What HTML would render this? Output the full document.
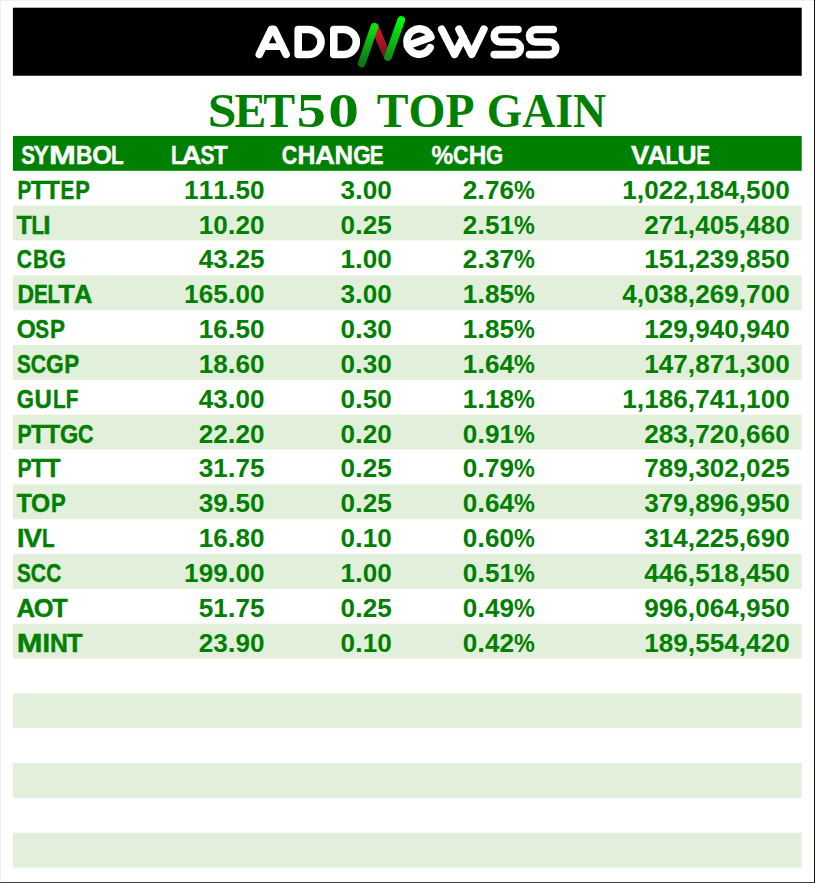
<!DOCTYPE html>
<html><head><meta charset="utf-8"><title>SET50 TOP GAIN</title>
<style>html,body{margin:0;padding:0;background:#fff;}body{width:815px;height:883px;overflow:hidden;font-family:"Liberation Sans",sans-serif;}</style>
</head><body>
<svg width="815" height="883" viewBox="0 0 815 883" style="display:block;font-kerning:none">
<rect x="0" y="0" width="815" height="883" fill="#fff"/>
<rect x="0" y="0" width="815" height="1" fill="#efefef"/>
<rect x="0" y="0" width="1" height="883" fill="#efefef"/>
<rect x="0" y="882" width="815" height="1" fill="#444"/>
<rect x="814" y="0" width="1" height="883" fill="#111"/>
<rect x="12.9" y="7.7" width="788.80" height="68.05" fill="#000"/>
<defs>
<linearGradient id="gL" x1="374.6" y1="26.5" x2="361.7" y2="63.4" gradientUnits="userSpaceOnUse"><stop offset="0" stop-color="#0fe012"/><stop offset="1" stop-color="#0b7512"/></linearGradient>
<linearGradient id="gR" x1="401" y1="19.6" x2="387.5" y2="57.2" gradientUnits="userSpaceOnUse"><stop offset="0" stop-color="#04fa08"/><stop offset="1" stop-color="#0e8c18"/></linearGradient>
<linearGradient id="gM" x1="377" y1="26" x2="387" y2="58" gradientUnits="userSpaceOnUse"><stop offset="0" stop-color="#dc1a2a"/><stop offset="1" stop-color="#6c141e"/></linearGradient>
</defs>
<g fill="none" stroke="#fff" stroke-width="7.6" stroke-linecap="round" stroke-linejoin="round">
<path d="M259.3,54.4 L271.5,29.2 L273.9,29.2 L286.1,54.4"/>
<path d="M264.5,46.6 L281,46.6" stroke-width="6.8"/>
<path d="M298.2,29.5 L308.5,29.5 A12.5,12.5 0 0 1 308.5,54.5 L298.2,54.5 Z"/>
<path d="M333.8,29.5 L343.8,29.5 A12.5,12.5 0 0 1 343.8,54.5 L333.8,54.5 Z"/>
<path d="M430.9,37.1 A12.35,12.75 0 1 0 430.2,47.6 M430.9,37.1 L407.3,45.7"/>
<path d="M441.7,29.2 L454.6,54.4 L463.3,37.5 M459,29.2 L471.7,54.4 L483.9,29.2"/>
<path d="M518,29.5 L500.5,29.5 A6.275,6.275 0 0 0 500.5,42.05 L514.1,42.05 A6.275,6.275 0 0 1 514.1,54.6 L494.2,54.6"/>
<path d="M553.3,29.5 L535.8,29.5 A6.275,6.275 0 0 0 535.8,42.05 L549.5,42.05 A6.275,6.275 0 0 1 549.5,54.6 L529.5,54.6"/>
</g>
<polygon points="372,31 378.1,24.2 390,53 386,59.5 384.3,58.9" fill="url(#gM)"/>
<path d="M374.4,26.75 L361.7,63.6" stroke="url(#gL)" stroke-width="7.7" stroke-linecap="round" fill="none"/>
<path d="M401.2,20.0 L388.0,57.0" stroke="url(#gR)" stroke-width="7.7" stroke-linecap="round" fill="none"/>

<text transform="translate(207.74,126.50) scale(1.0905,1)" font-family="'Liberation Serif', serif" font-weight="bold" font-size="47.6" fill="#008000">S</text>
<text transform="translate(234.59,126.50) scale(1.0002,1)" font-family="'Liberation Serif', serif" font-weight="bold" font-size="47.6" fill="#008000">E</text>
<text transform="translate(263.15,126.50) scale(1.0038,1)" font-family="'Liberation Serif', serif" font-weight="bold" font-size="47.6" fill="#008000">T</text>
<text transform="translate(296.87,126.50) scale(1.2208,1)" font-family="'Liberation Serif', serif" font-weight="bold" font-size="47.6" fill="#008000">5</text>
<text transform="translate(328.26,126.50) scale(1.2888,1)" font-family="'Liberation Serif', serif" font-weight="bold" font-size="47.6" fill="#008000">0</text>
<text transform="translate(376.76,126.50) scale(0.9984,1)" font-family="'Liberation Serif', serif" font-weight="bold" font-size="47.6" fill="#008000">TOP</text>
<text transform="translate(486.67,126.50) scale(0.9601,1)" font-family="'Liberation Serif', serif" font-weight="bold" font-size="47.6" fill="#008000">GAIN</text>
<rect x="12.9" y="135.96" width="788.80" height="34.84" fill="#008000"/>
<rect x="12.9" y="205.64" width="788.80" height="34.84" fill="#E2EFDA"/>
<rect x="12.9" y="275.32" width="788.80" height="34.84" fill="#E2EFDA"/>
<rect x="12.9" y="345.00" width="788.80" height="34.84" fill="#E2EFDA"/>
<rect x="12.9" y="414.68" width="788.80" height="34.84" fill="#E2EFDA"/>
<rect x="12.9" y="484.36" width="788.80" height="34.84" fill="#E2EFDA"/>
<rect x="12.9" y="554.04" width="788.80" height="34.84" fill="#E2EFDA"/>
<rect x="12.9" y="623.72" width="788.80" height="34.84" fill="#E2EFDA"/>
<rect x="12.9" y="693.40" width="788.80" height="34.84" fill="#E2EFDA"/>
<rect x="12.9" y="763.08" width="788.80" height="34.84" fill="#E2EFDA"/>
<rect x="12.9" y="832.76" width="788.80" height="34.84" fill="#E2EFDA"/>
<text transform="translate(21.17,164.06) scale(0.8000,1)" font-family="'Liberation Sans', sans-serif" font-weight="bold" font-size="25.8" fill="#fff" stroke="#fff" stroke-width="0.4">S</text>
<text transform="translate(33.51,164.06) scale(0.8929,1)" font-family="'Liberation Sans', sans-serif" font-weight="bold" font-size="25.8" fill="#fff" stroke="#fff" stroke-width="0.4">Y</text>
<text transform="translate(48.97,164.06) scale(1.2500,1)" font-family="'Liberation Sans', sans-serif" font-weight="bold" font-size="25.8" fill="#fff" stroke="#fff" stroke-width="0.4">M</text>
<text transform="translate(76.08,164.06) scale(0.8834,1)" font-family="'Liberation Sans', sans-serif" font-weight="bold" font-size="25.8" fill="#fff" stroke="#fff" stroke-width="0.4">B</text>
<text transform="translate(92.27,164.06) scale(0.9762,1)" font-family="'Liberation Sans', sans-serif" font-weight="bold" font-size="25.8" fill="#fff" stroke="#fff" stroke-width="0.4">O</text>
<text transform="translate(110.97,164.06) scale(0.8000,1)" font-family="'Liberation Sans', sans-serif" font-weight="bold" font-size="25.8" fill="#fff" stroke="#fff" stroke-width="0.4">L</text>
<text transform="translate(170.92,164.06) scale(0.8000,1)" font-family="'Liberation Sans', sans-serif" font-weight="bold" font-size="25.8" fill="#fff" stroke="#fff" stroke-width="0.4">L</text>
<text transform="translate(181.61,164.06) scale(1.0746,1)" font-family="'Liberation Sans', sans-serif" font-weight="bold" font-size="25.8" fill="#fff" stroke="#fff" stroke-width="0.4">A</text>
<text transform="translate(200.49,164.06) scale(0.8151,1)" font-family="'Liberation Sans', sans-serif" font-weight="bold" font-size="25.8" fill="#fff" stroke="#fff" stroke-width="0.4">S</text>
<text transform="translate(213.44,164.06) scale(0.9017,1)" font-family="'Liberation Sans', sans-serif" font-weight="bold" font-size="25.8" fill="#fff" stroke="#fff" stroke-width="0.4">T</text>
<text transform="translate(281.72,164.06) scale(0.8300,1)" font-family="'Liberation Sans', sans-serif" font-weight="bold" font-size="25.8" fill="#fff" stroke="#fff" stroke-width="0.4">C</text>
<text transform="translate(297.54,164.06) scale(0.9626,1)" font-family="'Liberation Sans', sans-serif" font-weight="bold" font-size="25.8" fill="#fff" stroke="#fff" stroke-width="0.4">H</text>
<text transform="translate(315.11,164.06) scale(1.0688,1)" font-family="'Liberation Sans', sans-serif" font-weight="bold" font-size="25.8" fill="#fff" stroke="#fff" stroke-width="0.4">A</text>
<text transform="translate(334.57,164.06) scale(1.0021,1)" font-family="'Liberation Sans', sans-serif" font-weight="bold" font-size="25.8" fill="#fff" stroke="#fff" stroke-width="0.4">N</text>
<text transform="translate(353.28,164.06) scale(0.8731,1)" font-family="'Liberation Sans', sans-serif" font-weight="bold" font-size="25.8" fill="#fff" stroke="#fff" stroke-width="0.4">G</text>
<text transform="translate(369.78,164.06) scale(0.8000,1)" font-family="'Liberation Sans', sans-serif" font-weight="bold" font-size="25.8" fill="#fff" stroke="#fff" stroke-width="0.4">E</text>
<text transform="translate(431.39,164.06) scale(0.9483,1)" font-family="'Liberation Sans', sans-serif" font-weight="bold" font-size="25.8" fill="#fff" stroke="#fff" stroke-width="0.4">%</text>
<text transform="translate(452.92,164.06) scale(0.8300,1)" font-family="'Liberation Sans', sans-serif" font-weight="bold" font-size="25.8" fill="#fff" stroke="#fff" stroke-width="0.4">C</text>
<text transform="translate(468.77,164.06) scale(0.9428,1)" font-family="'Liberation Sans', sans-serif" font-weight="bold" font-size="25.8" fill="#fff" stroke="#fff" stroke-width="0.4">H</text>
<text transform="translate(486.09,164.06) scale(0.8558,1)" font-family="'Liberation Sans', sans-serif" font-weight="bold" font-size="25.8" fill="#fff" stroke="#fff" stroke-width="0.4">G</text>
<text transform="translate(631.11,164.06) scale(1.0620,1)" font-family="'Liberation Sans', sans-serif" font-weight="bold" font-size="25.8" fill="#fff" stroke="#fff" stroke-width="0.4">V</text>
<text transform="translate(647.24,164.06) scale(1.0341,1)" font-family="'Liberation Sans', sans-serif" font-weight="bold" font-size="25.8" fill="#fff" stroke="#fff" stroke-width="0.4">A</text>
<text transform="translate(665.47,164.06) scale(0.8000,1)" font-family="'Liberation Sans', sans-serif" font-weight="bold" font-size="25.8" fill="#fff" stroke="#fff" stroke-width="0.4">L</text>
<text transform="translate(677.41,164.06) scale(1.0253,1)" font-family="'Liberation Sans', sans-serif" font-weight="bold" font-size="25.8" fill="#fff" stroke="#fff" stroke-width="0.4">U</text>
<text transform="translate(696.23,164.06) scale(0.8000,1)" font-family="'Liberation Sans', sans-serif" font-weight="bold" font-size="25.8" fill="#fff" stroke="#fff" stroke-width="0.4">E</text>
<g font-family="'Liberation Sans', sans-serif" font-weight="bold" font-size="25.8" fill="#008000">
<text transform="translate(17.38,198.75) scale(0.8000,1)" stroke="#008000" stroke-width="0.45">P</text>
<text transform="translate(30.73,198.75) scale(0.9412,1)" stroke="#008000" stroke-width="0.45">T</text>
<text transform="translate(45.03,198.75) scale(0.9478,1)" stroke="#008000" stroke-width="0.45">T</text>
<text transform="translate(60.48,198.75) scale(0.8000,1)" stroke="#008000" stroke-width="0.45">E</text>
<text transform="translate(75.33,198.75) scale(0.8493,1)" stroke="#008000" stroke-width="0.45">P</text>
<text transform="translate(184.12,198.75) scale(1.0119,1)">1</text><text transform="translate(198.64,198.75) scale(1.0119,1)">1</text><text transform="translate(213.16,198.75) scale(1.0119,1)">1</text><text transform="translate(227.68,198.75) scale(1.0882,1)">.</text><text transform="translate(235.48,198.75) scale(1.0119,1)">5</text><text transform="translate(250.00,198.75) scale(1.0119,1)">0</text>
<text transform="translate(340.51,198.75) scale(1.0119,1)">3</text><text transform="translate(355.03,198.75) scale(1.0882,1)">.</text><text transform="translate(362.83,198.75) scale(1.0119,1)">0</text><text transform="translate(377.35,198.75) scale(1.0119,1)">0</text>
<text transform="translate(462.76,198.75) scale(1.0119,1)">2</text><text transform="translate(477.28,198.75) scale(1.0882,1)">.</text><text transform="translate(485.08,198.75) scale(1.0119,1)">7</text><text transform="translate(499.60,198.75) scale(1.0119,1)">6</text><text transform="translate(514.12,198.75) scale(0.9067,1)">%</text>
<text transform="translate(622.27,198.75) scale(1.0119,1)">1</text><text transform="translate(636.79,198.75) scale(1.0324,1)">,</text><text transform="translate(644.19,198.75) scale(1.0119,1)">0</text><text transform="translate(658.71,198.75) scale(1.0119,1)">2</text><text transform="translate(673.23,198.75) scale(1.0119,1)">2</text><text transform="translate(687.75,198.75) scale(1.0324,1)">,</text><text transform="translate(695.15,198.75) scale(1.0119,1)">1</text><text transform="translate(709.67,198.75) scale(1.0119,1)">8</text><text transform="translate(724.19,198.75) scale(1.0119,1)">4</text><text transform="translate(738.71,198.75) scale(1.0324,1)">,</text><text transform="translate(746.11,198.75) scale(1.0119,1)">5</text><text transform="translate(760.63,198.75) scale(1.0119,1)">0</text><text transform="translate(775.15,198.75) scale(1.0119,1)">0</text>
<text transform="translate(16.52,233.59) scale(0.9676,1)" stroke="#008000" stroke-width="0.45">T</text>
<text transform="translate(31.47,233.59) scale(0.8000,1)" stroke="#008000" stroke-width="0.45">L</text>
<text transform="translate(43.34,233.59) scale(1.0225,1)" stroke="#008000" stroke-width="0.45">I</text>
<text transform="translate(198.64,233.59) scale(1.0119,1)">1</text><text transform="translate(213.16,233.59) scale(1.0119,1)">0</text><text transform="translate(227.68,233.59) scale(1.0882,1)">.</text><text transform="translate(235.48,233.59) scale(1.0119,1)">2</text><text transform="translate(250.00,233.59) scale(1.0119,1)">0</text>
<text transform="translate(340.51,233.59) scale(1.0119,1)">0</text><text transform="translate(355.03,233.59) scale(1.0882,1)">.</text><text transform="translate(362.83,233.59) scale(1.0119,1)">2</text><text transform="translate(377.35,233.59) scale(1.0119,1)">5</text>
<text transform="translate(462.76,233.59) scale(1.0119,1)">2</text><text transform="translate(477.28,233.59) scale(1.0882,1)">.</text><text transform="translate(485.08,233.59) scale(1.0119,1)">5</text><text transform="translate(499.60,233.59) scale(1.0119,1)">1</text><text transform="translate(514.12,233.59) scale(0.9067,1)">%</text>
<text transform="translate(644.19,233.59) scale(1.0119,1)">2</text><text transform="translate(658.71,233.59) scale(1.0119,1)">7</text><text transform="translate(673.23,233.59) scale(1.0119,1)">1</text><text transform="translate(687.75,233.59) scale(1.0324,1)">,</text><text transform="translate(695.15,233.59) scale(1.0119,1)">4</text><text transform="translate(709.67,233.59) scale(1.0119,1)">0</text><text transform="translate(724.19,233.59) scale(1.0119,1)">5</text><text transform="translate(738.71,233.59) scale(1.0324,1)">,</text><text transform="translate(746.11,233.59) scale(1.0119,1)">4</text><text transform="translate(760.63,233.59) scale(1.0119,1)">8</text><text transform="translate(775.15,233.59) scale(1.0119,1)">0</text>
<text transform="translate(16.83,268.43) scale(0.8181,1)" stroke="#008000" stroke-width="0.45">C</text>
<text transform="translate(33.07,268.43) scale(0.8262,1)" stroke="#008000" stroke-width="0.45">B</text>
<text transform="translate(49.11,268.43) scale(0.8386,1)" stroke="#008000" stroke-width="0.45">G</text>
<text transform="translate(198.64,268.43) scale(1.0119,1)">4</text><text transform="translate(213.16,268.43) scale(1.0119,1)">3</text><text transform="translate(227.68,268.43) scale(1.0882,1)">.</text><text transform="translate(235.48,268.43) scale(1.0119,1)">2</text><text transform="translate(250.00,268.43) scale(1.0119,1)">5</text>
<text transform="translate(340.51,268.43) scale(1.0119,1)">1</text><text transform="translate(355.03,268.43) scale(1.0882,1)">.</text><text transform="translate(362.83,268.43) scale(1.0119,1)">0</text><text transform="translate(377.35,268.43) scale(1.0119,1)">0</text>
<text transform="translate(462.76,268.43) scale(1.0119,1)">2</text><text transform="translate(477.28,268.43) scale(1.0882,1)">.</text><text transform="translate(485.08,268.43) scale(1.0119,1)">3</text><text transform="translate(499.60,268.43) scale(1.0119,1)">7</text><text transform="translate(514.12,268.43) scale(0.9067,1)">%</text>
<text transform="translate(644.19,268.43) scale(1.0119,1)">1</text><text transform="translate(658.71,268.43) scale(1.0119,1)">5</text><text transform="translate(673.23,268.43) scale(1.0119,1)">1</text><text transform="translate(687.75,268.43) scale(1.0324,1)">,</text><text transform="translate(695.15,268.43) scale(1.0119,1)">2</text><text transform="translate(709.67,268.43) scale(1.0119,1)">3</text><text transform="translate(724.19,268.43) scale(1.0119,1)">9</text><text transform="translate(738.71,268.43) scale(1.0324,1)">,</text><text transform="translate(746.11,268.43) scale(1.0119,1)">8</text><text transform="translate(760.63,268.43) scale(1.0119,1)">5</text><text transform="translate(775.15,268.43) scale(1.0119,1)">0</text>
<text transform="translate(17.56,303.27) scale(0.8911,1)" stroke="#008000" stroke-width="0.45">D</text>
<text transform="translate(33.93,303.27) scale(0.8000,1)" stroke="#008000" stroke-width="0.45">E</text>
<text transform="translate(47.47,303.27) scale(0.8000,1)" stroke="#008000" stroke-width="0.45">L</text>
<text transform="translate(58.29,303.27) scale(1.0531,1)" stroke="#008000" stroke-width="0.45">T</text>
<text transform="translate(73.97,303.27) scale(0.9879,1)" stroke="#008000" stroke-width="0.45">A</text>
<text transform="translate(184.12,303.27) scale(1.0119,1)">1</text><text transform="translate(198.64,303.27) scale(1.0119,1)">6</text><text transform="translate(213.16,303.27) scale(1.0119,1)">5</text><text transform="translate(227.68,303.27) scale(1.0882,1)">.</text><text transform="translate(235.48,303.27) scale(1.0119,1)">0</text><text transform="translate(250.00,303.27) scale(1.0119,1)">0</text>
<text transform="translate(340.51,303.27) scale(1.0119,1)">3</text><text transform="translate(355.03,303.27) scale(1.0882,1)">.</text><text transform="translate(362.83,303.27) scale(1.0119,1)">0</text><text transform="translate(377.35,303.27) scale(1.0119,1)">0</text>
<text transform="translate(462.76,303.27) scale(1.0119,1)">1</text><text transform="translate(477.28,303.27) scale(1.0882,1)">.</text><text transform="translate(485.08,303.27) scale(1.0119,1)">8</text><text transform="translate(499.60,303.27) scale(1.0119,1)">5</text><text transform="translate(514.12,303.27) scale(0.9067,1)">%</text>
<text transform="translate(622.27,303.27) scale(1.0119,1)">4</text><text transform="translate(636.79,303.27) scale(1.0324,1)">,</text><text transform="translate(644.19,303.27) scale(1.0119,1)">0</text><text transform="translate(658.71,303.27) scale(1.0119,1)">3</text><text transform="translate(673.23,303.27) scale(1.0119,1)">8</text><text transform="translate(687.75,303.27) scale(1.0324,1)">,</text><text transform="translate(695.15,303.27) scale(1.0119,1)">2</text><text transform="translate(709.67,303.27) scale(1.0119,1)">6</text><text transform="translate(724.19,303.27) scale(1.0119,1)">9</text><text transform="translate(738.71,303.27) scale(1.0324,1)">,</text><text transform="translate(746.11,303.27) scale(1.0119,1)">7</text><text transform="translate(760.63,303.27) scale(1.0119,1)">0</text><text transform="translate(775.15,303.27) scale(1.0119,1)">0</text>
<text transform="translate(16.69,338.11) scale(0.9539,1)" stroke="#008000" stroke-width="0.45">O</text>
<text transform="translate(35.22,338.11) scale(0.8000,1)" stroke="#008000" stroke-width="0.45">S</text>
<text transform="translate(49.90,338.11) scale(0.8698,1)" stroke="#008000" stroke-width="0.45">P</text>
<text transform="translate(198.64,338.11) scale(1.0119,1)">1</text><text transform="translate(213.16,338.11) scale(1.0119,1)">6</text><text transform="translate(227.68,338.11) scale(1.0882,1)">.</text><text transform="translate(235.48,338.11) scale(1.0119,1)">5</text><text transform="translate(250.00,338.11) scale(1.0119,1)">0</text>
<text transform="translate(340.51,338.11) scale(1.0119,1)">0</text><text transform="translate(355.03,338.11) scale(1.0882,1)">.</text><text transform="translate(362.83,338.11) scale(1.0119,1)">3</text><text transform="translate(377.35,338.11) scale(1.0119,1)">0</text>
<text transform="translate(462.76,338.11) scale(1.0119,1)">1</text><text transform="translate(477.28,338.11) scale(1.0882,1)">.</text><text transform="translate(485.08,338.11) scale(1.0119,1)">8</text><text transform="translate(499.60,338.11) scale(1.0119,1)">5</text><text transform="translate(514.12,338.11) scale(0.9067,1)">%</text>
<text transform="translate(644.19,338.11) scale(1.0119,1)">1</text><text transform="translate(658.71,338.11) scale(1.0119,1)">2</text><text transform="translate(673.23,338.11) scale(1.0119,1)">9</text><text transform="translate(687.75,338.11) scale(1.0324,1)">,</text><text transform="translate(695.15,338.11) scale(1.0119,1)">9</text><text transform="translate(709.67,338.11) scale(1.0119,1)">4</text><text transform="translate(724.19,338.11) scale(1.0119,1)">0</text><text transform="translate(738.71,338.11) scale(1.0324,1)">,</text><text transform="translate(746.11,338.11) scale(1.0119,1)">9</text><text transform="translate(760.63,338.11) scale(1.0119,1)">4</text><text transform="translate(775.15,338.11) scale(1.0119,1)">0</text>
<text transform="translate(16.90,372.95) scale(0.8022,1)" stroke="#008000" stroke-width="0.45">S</text>
<text transform="translate(30.63,372.95) scale(0.8181,1)" stroke="#008000" stroke-width="0.45">C</text>
<text transform="translate(46.06,372.95) scale(0.8846,1)" stroke="#008000" stroke-width="0.45">G</text>
<text transform="translate(64.20,372.95) scale(0.8698,1)" stroke="#008000" stroke-width="0.45">P</text>
<text transform="translate(198.64,372.95) scale(1.0119,1)">1</text><text transform="translate(213.16,372.95) scale(1.0119,1)">8</text><text transform="translate(227.68,372.95) scale(1.0882,1)">.</text><text transform="translate(235.48,372.95) scale(1.0119,1)">6</text><text transform="translate(250.00,372.95) scale(1.0119,1)">0</text>
<text transform="translate(340.51,372.95) scale(1.0119,1)">0</text><text transform="translate(355.03,372.95) scale(1.0882,1)">.</text><text transform="translate(362.83,372.95) scale(1.0119,1)">3</text><text transform="translate(377.35,372.95) scale(1.0119,1)">0</text>
<text transform="translate(462.76,372.95) scale(1.0119,1)">1</text><text transform="translate(477.28,372.95) scale(1.0882,1)">.</text><text transform="translate(485.08,372.95) scale(1.0119,1)">6</text><text transform="translate(499.60,372.95) scale(1.0119,1)">4</text><text transform="translate(514.12,372.95) scale(0.9067,1)">%</text>
<text transform="translate(644.19,372.95) scale(1.0119,1)">1</text><text transform="translate(658.71,372.95) scale(1.0119,1)">4</text><text transform="translate(673.23,372.95) scale(1.0119,1)">7</text><text transform="translate(687.75,372.95) scale(1.0324,1)">,</text><text transform="translate(695.15,372.95) scale(1.0119,1)">8</text><text transform="translate(709.67,372.95) scale(1.0119,1)">7</text><text transform="translate(724.19,372.95) scale(1.0119,1)">1</text><text transform="translate(738.71,372.95) scale(1.0324,1)">,</text><text transform="translate(746.11,372.95) scale(1.0119,1)">3</text><text transform="translate(760.63,372.95) scale(1.0119,1)">0</text><text transform="translate(775.15,372.95) scale(1.0119,1)">0</text>
<text transform="translate(16.79,407.79) scale(0.8558,1)" stroke="#008000" stroke-width="0.45">G</text>
<text transform="translate(34.46,407.79) scale(0.9286,1)" stroke="#008000" stroke-width="0.45">U</text>
<text transform="translate(52.97,407.79) scale(0.8000,1)" stroke="#008000" stroke-width="0.45">L</text>
<text transform="translate(65.83,407.79) scale(0.8000,1)" stroke="#008000" stroke-width="0.45">F</text>
<text transform="translate(198.64,407.79) scale(1.0119,1)">4</text><text transform="translate(213.16,407.79) scale(1.0119,1)">3</text><text transform="translate(227.68,407.79) scale(1.0882,1)">.</text><text transform="translate(235.48,407.79) scale(1.0119,1)">0</text><text transform="translate(250.00,407.79) scale(1.0119,1)">0</text>
<text transform="translate(340.51,407.79) scale(1.0119,1)">0</text><text transform="translate(355.03,407.79) scale(1.0882,1)">.</text><text transform="translate(362.83,407.79) scale(1.0119,1)">5</text><text transform="translate(377.35,407.79) scale(1.0119,1)">0</text>
<text transform="translate(462.76,407.79) scale(1.0119,1)">1</text><text transform="translate(477.28,407.79) scale(1.0882,1)">.</text><text transform="translate(485.08,407.79) scale(1.0119,1)">1</text><text transform="translate(499.60,407.79) scale(1.0119,1)">8</text><text transform="translate(514.12,407.79) scale(0.9067,1)">%</text>
<text transform="translate(622.27,407.79) scale(1.0119,1)">1</text><text transform="translate(636.79,407.79) scale(1.0324,1)">,</text><text transform="translate(644.19,407.79) scale(1.0119,1)">1</text><text transform="translate(658.71,407.79) scale(1.0119,1)">8</text><text transform="translate(673.23,407.79) scale(1.0119,1)">6</text><text transform="translate(687.75,407.79) scale(1.0324,1)">,</text><text transform="translate(695.15,407.79) scale(1.0119,1)">7</text><text transform="translate(709.67,407.79) scale(1.0119,1)">4</text><text transform="translate(724.19,407.79) scale(1.0119,1)">1</text><text transform="translate(738.71,407.79) scale(1.0324,1)">,</text><text transform="translate(746.11,407.79) scale(1.0119,1)">1</text><text transform="translate(760.63,407.79) scale(1.0119,1)">0</text><text transform="translate(775.15,407.79) scale(1.0119,1)">0</text>
<text transform="translate(17.39,442.63) scale(0.8185,1)" stroke="#008000" stroke-width="0.45">P</text>
<text transform="translate(30.93,442.63) scale(0.9281,1)" stroke="#008000" stroke-width="0.45">T</text>
<text transform="translate(45.23,442.63) scale(0.9478,1)" stroke="#008000" stroke-width="0.45">T</text>
<text transform="translate(60.04,442.63) scale(0.9075,1)" stroke="#008000" stroke-width="0.45">G</text>
<text transform="translate(78.12,442.63) scale(0.8300,1)" stroke="#008000" stroke-width="0.45">C</text>
<text transform="translate(198.64,442.63) scale(1.0119,1)">2</text><text transform="translate(213.16,442.63) scale(1.0119,1)">2</text><text transform="translate(227.68,442.63) scale(1.0882,1)">.</text><text transform="translate(235.48,442.63) scale(1.0119,1)">2</text><text transform="translate(250.00,442.63) scale(1.0119,1)">0</text>
<text transform="translate(340.51,442.63) scale(1.0119,1)">0</text><text transform="translate(355.03,442.63) scale(1.0882,1)">.</text><text transform="translate(362.83,442.63) scale(1.0119,1)">2</text><text transform="translate(377.35,442.63) scale(1.0119,1)">0</text>
<text transform="translate(462.76,442.63) scale(1.0119,1)">0</text><text transform="translate(477.28,442.63) scale(1.0882,1)">.</text><text transform="translate(485.08,442.63) scale(1.0119,1)">9</text><text transform="translate(499.60,442.63) scale(1.0119,1)">1</text><text transform="translate(514.12,442.63) scale(0.9067,1)">%</text>
<text transform="translate(644.19,442.63) scale(1.0119,1)">2</text><text transform="translate(658.71,442.63) scale(1.0119,1)">8</text><text transform="translate(673.23,442.63) scale(1.0119,1)">3</text><text transform="translate(687.75,442.63) scale(1.0324,1)">,</text><text transform="translate(695.15,442.63) scale(1.0119,1)">7</text><text transform="translate(709.67,442.63) scale(1.0119,1)">2</text><text transform="translate(724.19,442.63) scale(1.0119,1)">0</text><text transform="translate(738.71,442.63) scale(1.0324,1)">,</text><text transform="translate(746.11,442.63) scale(1.0119,1)">6</text><text transform="translate(760.63,442.63) scale(1.0119,1)">6</text><text transform="translate(775.15,442.63) scale(1.0119,1)">0</text>
<text transform="translate(17.39,477.47) scale(0.8185,1)" stroke="#008000" stroke-width="0.45">P</text>
<text transform="translate(30.93,477.47) scale(0.9281,1)" stroke="#008000" stroke-width="0.45">T</text>
<text transform="translate(45.22,477.47) scale(0.9676,1)" stroke="#008000" stroke-width="0.45">T</text>
<text transform="translate(198.64,477.47) scale(1.0119,1)">3</text><text transform="translate(213.16,477.47) scale(1.0119,1)">1</text><text transform="translate(227.68,477.47) scale(1.0882,1)">.</text><text transform="translate(235.48,477.47) scale(1.0119,1)">7</text><text transform="translate(250.00,477.47) scale(1.0119,1)">5</text>
<text transform="translate(340.51,477.47) scale(1.0119,1)">0</text><text transform="translate(355.03,477.47) scale(1.0882,1)">.</text><text transform="translate(362.83,477.47) scale(1.0119,1)">2</text><text transform="translate(377.35,477.47) scale(1.0119,1)">5</text>
<text transform="translate(462.76,477.47) scale(1.0119,1)">0</text><text transform="translate(477.28,477.47) scale(1.0882,1)">.</text><text transform="translate(485.08,477.47) scale(1.0119,1)">7</text><text transform="translate(499.60,477.47) scale(1.0119,1)">9</text><text transform="translate(514.12,477.47) scale(0.9067,1)">%</text>
<text transform="translate(644.19,477.47) scale(1.0119,1)">7</text><text transform="translate(658.71,477.47) scale(1.0119,1)">8</text><text transform="translate(673.23,477.47) scale(1.0119,1)">9</text><text transform="translate(687.75,477.47) scale(1.0324,1)">,</text><text transform="translate(695.15,477.47) scale(1.0119,1)">3</text><text transform="translate(709.67,477.47) scale(1.0119,1)">0</text><text transform="translate(724.19,477.47) scale(1.0119,1)">2</text><text transform="translate(738.71,477.47) scale(1.0324,1)">,</text><text transform="translate(746.11,477.47) scale(1.0119,1)">0</text><text transform="translate(760.63,477.47) scale(1.0119,1)">2</text><text transform="translate(775.15,477.47) scale(1.0119,1)">5</text>
<text transform="translate(16.52,512.31) scale(0.9676,1)" stroke="#008000" stroke-width="0.45">T</text>
<text transform="translate(31.09,512.31) scale(0.9539,1)" stroke="#008000" stroke-width="0.45">O</text>
<text transform="translate(51.02,512.31) scale(0.8561,1)" stroke="#008000" stroke-width="0.45">P</text>
<text transform="translate(198.64,512.31) scale(1.0119,1)">3</text><text transform="translate(213.16,512.31) scale(1.0119,1)">9</text><text transform="translate(227.68,512.31) scale(1.0882,1)">.</text><text transform="translate(235.48,512.31) scale(1.0119,1)">5</text><text transform="translate(250.00,512.31) scale(1.0119,1)">0</text>
<text transform="translate(340.51,512.31) scale(1.0119,1)">0</text><text transform="translate(355.03,512.31) scale(1.0882,1)">.</text><text transform="translate(362.83,512.31) scale(1.0119,1)">2</text><text transform="translate(377.35,512.31) scale(1.0119,1)">5</text>
<text transform="translate(462.76,512.31) scale(1.0119,1)">0</text><text transform="translate(477.28,512.31) scale(1.0882,1)">.</text><text transform="translate(485.08,512.31) scale(1.0119,1)">6</text><text transform="translate(499.60,512.31) scale(1.0119,1)">4</text><text transform="translate(514.12,512.31) scale(0.9067,1)">%</text>
<text transform="translate(644.19,512.31) scale(1.0119,1)">3</text><text transform="translate(658.71,512.31) scale(1.0119,1)">7</text><text transform="translate(673.23,512.31) scale(1.0119,1)">9</text><text transform="translate(687.75,512.31) scale(1.0324,1)">,</text><text transform="translate(695.15,512.31) scale(1.0119,1)">8</text><text transform="translate(709.67,512.31) scale(1.0119,1)">9</text><text transform="translate(724.19,512.31) scale(1.0119,1)">6</text><text transform="translate(738.71,512.31) scale(1.0324,1)">,</text><text transform="translate(746.11,512.31) scale(1.0119,1)">9</text><text transform="translate(760.63,512.31) scale(1.0119,1)">5</text><text transform="translate(775.15,512.31) scale(1.0119,1)">0</text>
<text transform="translate(16.99,547.15) scale(1.0494,1)" stroke="#008000" stroke-width="0.45">I</text>
<text transform="translate(23.61,547.15) scale(1.0798,1)" stroke="#008000" stroke-width="0.45">V</text>
<text transform="translate(42.12,547.15) scale(0.8000,1)" stroke="#008000" stroke-width="0.45">L</text>
<text transform="translate(198.64,547.15) scale(1.0119,1)">1</text><text transform="translate(213.16,547.15) scale(1.0119,1)">6</text><text transform="translate(227.68,547.15) scale(1.0882,1)">.</text><text transform="translate(235.48,547.15) scale(1.0119,1)">8</text><text transform="translate(250.00,547.15) scale(1.0119,1)">0</text>
<text transform="translate(340.51,547.15) scale(1.0119,1)">0</text><text transform="translate(355.03,547.15) scale(1.0882,1)">.</text><text transform="translate(362.83,547.15) scale(1.0119,1)">1</text><text transform="translate(377.35,547.15) scale(1.0119,1)">0</text>
<text transform="translate(462.76,547.15) scale(1.0119,1)">0</text><text transform="translate(477.28,547.15) scale(1.0882,1)">.</text><text transform="translate(485.08,547.15) scale(1.0119,1)">6</text><text transform="translate(499.60,547.15) scale(1.0119,1)">0</text><text transform="translate(514.12,547.15) scale(0.9067,1)">%</text>
<text transform="translate(644.19,547.15) scale(1.0119,1)">3</text><text transform="translate(658.71,547.15) scale(1.0119,1)">1</text><text transform="translate(673.23,547.15) scale(1.0119,1)">4</text><text transform="translate(687.75,547.15) scale(1.0324,1)">,</text><text transform="translate(695.15,547.15) scale(1.0119,1)">2</text><text transform="translate(709.67,547.15) scale(1.0119,1)">2</text><text transform="translate(724.19,547.15) scale(1.0119,1)">5</text><text transform="translate(738.71,547.15) scale(1.0324,1)">,</text><text transform="translate(746.11,547.15) scale(1.0119,1)">6</text><text transform="translate(760.63,547.15) scale(1.0119,1)">9</text><text transform="translate(775.15,547.15) scale(1.0119,1)">0</text>
<text transform="translate(16.90,581.99) scale(0.8022,1)" stroke="#008000" stroke-width="0.45">S</text>
<text transform="translate(30.63,581.99) scale(0.8181,1)" stroke="#008000" stroke-width="0.45">C</text>
<text transform="translate(46.15,581.99) scale(0.8062,1)" stroke="#008000" stroke-width="0.45">C</text>
<text transform="translate(184.12,581.99) scale(1.0119,1)">1</text><text transform="translate(198.64,581.99) scale(1.0119,1)">9</text><text transform="translate(213.16,581.99) scale(1.0119,1)">9</text><text transform="translate(227.68,581.99) scale(1.0882,1)">.</text><text transform="translate(235.48,581.99) scale(1.0119,1)">0</text><text transform="translate(250.00,581.99) scale(1.0119,1)">0</text>
<text transform="translate(340.51,581.99) scale(1.0119,1)">1</text><text transform="translate(355.03,581.99) scale(1.0882,1)">.</text><text transform="translate(362.83,581.99) scale(1.0119,1)">0</text><text transform="translate(377.35,581.99) scale(1.0119,1)">0</text>
<text transform="translate(462.76,581.99) scale(1.0119,1)">0</text><text transform="translate(477.28,581.99) scale(1.0882,1)">.</text><text transform="translate(485.08,581.99) scale(1.0119,1)">5</text><text transform="translate(499.60,581.99) scale(1.0119,1)">1</text><text transform="translate(514.12,581.99) scale(0.9067,1)">%</text>
<text transform="translate(644.19,581.99) scale(1.0119,1)">4</text><text transform="translate(658.71,581.99) scale(1.0119,1)">4</text><text transform="translate(673.23,581.99) scale(1.0119,1)">6</text><text transform="translate(687.75,581.99) scale(1.0324,1)">,</text><text transform="translate(695.15,581.99) scale(1.0119,1)">5</text><text transform="translate(709.67,581.99) scale(1.0119,1)">1</text><text transform="translate(724.19,581.99) scale(1.0119,1)">8</text><text transform="translate(738.71,581.99) scale(1.0324,1)">,</text><text transform="translate(746.11,581.99) scale(1.0119,1)">4</text><text transform="translate(760.63,581.99) scale(1.0119,1)">5</text><text transform="translate(775.15,581.99) scale(1.0119,1)">0</text>
<text transform="translate(16.56,616.83) scale(0.9995,1)" stroke="#008000" stroke-width="0.45">A</text>
<text transform="translate(33.76,616.83) scale(0.9874,1)" stroke="#008000" stroke-width="0.45">O</text>
<text transform="translate(52.22,616.83) scale(0.9807,1)" stroke="#008000" stroke-width="0.45">T</text>
<text transform="translate(198.64,616.83) scale(1.0119,1)">5</text><text transform="translate(213.16,616.83) scale(1.0119,1)">1</text><text transform="translate(227.68,616.83) scale(1.0882,1)">.</text><text transform="translate(235.48,616.83) scale(1.0119,1)">7</text><text transform="translate(250.00,616.83) scale(1.0119,1)">5</text>
<text transform="translate(340.51,616.83) scale(1.0119,1)">0</text><text transform="translate(355.03,616.83) scale(1.0882,1)">.</text><text transform="translate(362.83,616.83) scale(1.0119,1)">2</text><text transform="translate(377.35,616.83) scale(1.0119,1)">5</text>
<text transform="translate(462.76,616.83) scale(1.0119,1)">0</text><text transform="translate(477.28,616.83) scale(1.0882,1)">.</text><text transform="translate(485.08,616.83) scale(1.0119,1)">4</text><text transform="translate(499.60,616.83) scale(1.0119,1)">9</text><text transform="translate(514.12,616.83) scale(0.9067,1)">%</text>
<text transform="translate(644.19,616.83) scale(1.0119,1)">9</text><text transform="translate(658.71,616.83) scale(1.0119,1)">9</text><text transform="translate(673.23,616.83) scale(1.0119,1)">6</text><text transform="translate(687.75,616.83) scale(1.0324,1)">,</text><text transform="translate(695.15,616.83) scale(1.0119,1)">0</text><text transform="translate(709.67,616.83) scale(1.0119,1)">6</text><text transform="translate(724.19,616.83) scale(1.0119,1)">4</text><text transform="translate(738.71,616.83) scale(1.0324,1)">,</text><text transform="translate(746.11,616.83) scale(1.0119,1)">9</text><text transform="translate(760.63,616.83) scale(1.0119,1)">5</text><text transform="translate(775.15,616.83) scale(1.0119,1)">0</text>
<text transform="translate(16.73,651.67) scale(1.1973,1)" stroke="#008000" stroke-width="0.45">M</text>
<text transform="translate(42.39,651.67) scale(1.0494,1)" stroke="#008000" stroke-width="0.45">I</text>
<text transform="translate(50.04,651.67) scale(0.9626,1)" stroke="#008000" stroke-width="0.45">N</text>
<text transform="translate(66.91,651.67) scale(0.9939,1)" stroke="#008000" stroke-width="0.45">T</text>
<text transform="translate(198.64,651.67) scale(1.0119,1)">2</text><text transform="translate(213.16,651.67) scale(1.0119,1)">3</text><text transform="translate(227.68,651.67) scale(1.0882,1)">.</text><text transform="translate(235.48,651.67) scale(1.0119,1)">9</text><text transform="translate(250.00,651.67) scale(1.0119,1)">0</text>
<text transform="translate(340.51,651.67) scale(1.0119,1)">0</text><text transform="translate(355.03,651.67) scale(1.0882,1)">.</text><text transform="translate(362.83,651.67) scale(1.0119,1)">1</text><text transform="translate(377.35,651.67) scale(1.0119,1)">0</text>
<text transform="translate(462.76,651.67) scale(1.0119,1)">0</text><text transform="translate(477.28,651.67) scale(1.0882,1)">.</text><text transform="translate(485.08,651.67) scale(1.0119,1)">4</text><text transform="translate(499.60,651.67) scale(1.0119,1)">2</text><text transform="translate(514.12,651.67) scale(0.9067,1)">%</text>
<text transform="translate(644.19,651.67) scale(1.0119,1)">1</text><text transform="translate(658.71,651.67) scale(1.0119,1)">8</text><text transform="translate(673.23,651.67) scale(1.0119,1)">9</text><text transform="translate(687.75,651.67) scale(1.0324,1)">,</text><text transform="translate(695.15,651.67) scale(1.0119,1)">5</text><text transform="translate(709.67,651.67) scale(1.0119,1)">5</text><text transform="translate(724.19,651.67) scale(1.0119,1)">4</text><text transform="translate(738.71,651.67) scale(1.0324,1)">,</text><text transform="translate(746.11,651.67) scale(1.0119,1)">4</text><text transform="translate(760.63,651.67) scale(1.0119,1)">2</text><text transform="translate(775.15,651.67) scale(1.0119,1)">0</text>
</g>
</svg>
</body></html>
